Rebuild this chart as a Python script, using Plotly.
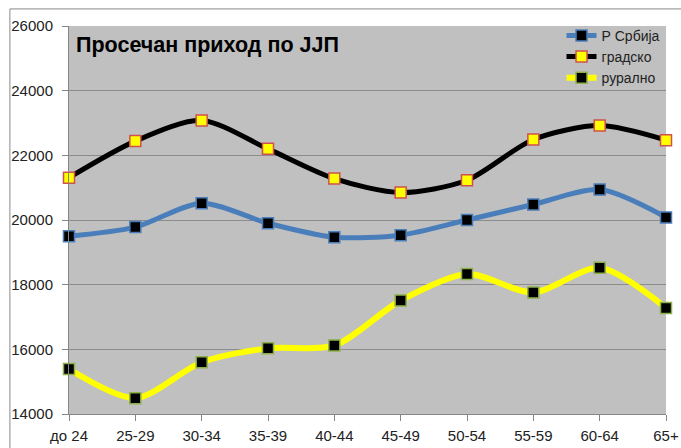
import plotly.graph_objects as go

categories = ["до 24", "25-29", "30-34", "35-39", "40-44", "45-49", "50-54", "55-59", "60-64", "65+"]
srbija = [19500, 19780, 20520, 19900, 19470, 19530, 20000, 20480, 20940, 20080]
gradsko = [21310, 22440, 23080, 22200, 21280, 20850, 21230, 22490, 22920, 22470]
ruralno = [15390, 14490, 15600, 16030, 16120, 17510, 18330, 17760, 18520, 17280]
y_ticks = [14000, 16000, 18000, 20000, 22000, 24000, 26000]

FONT = "Liberation Sans"

fig = go.Figure()
fig.add_trace(go.Scatter(
    x=categories, y=srbija, name="Р Србија", mode="lines+markers",
    line=dict(color="#4A7EBB", width=5, shape="spline", smoothing=0.8),
    marker=dict(symbol="square", size=11, color="black", line=dict(color="#4A7EBB", width=1.5)),
    cliponaxis=False))
fig.add_trace(go.Scatter(
    x=categories, y=gradsko, name="градско", mode="lines+markers",
    line=dict(color="black", width=5, shape="spline", smoothing=0.8),
    marker=dict(symbol="square", size=11, color="#FFFF00", line=dict(color="#D0504D", width=1.5)),
    cliponaxis=False))
fig.add_trace(go.Scatter(
    x=categories, y=ruralno, name="рурално", mode="lines+markers",
    line=dict(color="#FFFF00", width=6, shape="spline", smoothing=0.8),
    marker=dict(symbol="square", size=11, color="black", line=dict(color="#8DB04A", width=1.5)),
    cliponaxis=False))

fig.update_layout(
    width=681, height=448,
    margin=dict(l=69, r=15, t=26, b=34),
    paper_bgcolor="white", plot_bgcolor="#C0C0C0",
    font=dict(family=FONT, size=15, color="#222"),
    showlegend=True,
    legend=dict(x=0.825, y=1.016, xanchor="left", yanchor="top",
                bgcolor="rgba(0,0,0,0)", font=dict(family=FONT, size=14, color="#222"),
                tracegroupgap=0, itemwidth=30),
    annotations=[dict(text="<b>Просечан приход по ЈЈП</b>", xref="paper", yref="paper",
                      x=0.008, y=0.952, xanchor="left", yanchor="middle", showarrow=False,
                      font=dict(family=FONT, size=21.5, color="black"))],
    shapes=[dict(type="rect", xref="paper", yref="paper", x0=-0.099, y0=-0.3, x1=1.3, y1=1.044,
                 line=dict(color="#8A8A8A", width=1), fillcolor="rgba(0,0,0,0)", layer="below")],
)
fig.update_xaxes(type="category", range=[0, 9], showgrid=False, showline=True, linecolor="#868686",
                 ticks="outside", ticklen=6, tickcolor="#868686", tickfont=dict(size=15, color="#222"),
                 zeroline=False, automargin=False, ticklabelstandoff=2)
fig.update_yaxes(range=[14000, 26000], tickvals=y_ticks, tickformat="d", showgrid=True,
                 gridcolor="#8C8C8C", gridwidth=1, showline=True, linecolor="#868686",
                 ticks="outside", ticklen=6, tickcolor="#868686", tickfont=dict(size=15, color="#222"),
                 zeroline=False, automargin=False, ticklabelstandoff=6)

fig.write_html("out.html", config={"displayModeBar": False},
               post_script="document.body.style.margin='0';document.body.style.overflow='hidden';")
